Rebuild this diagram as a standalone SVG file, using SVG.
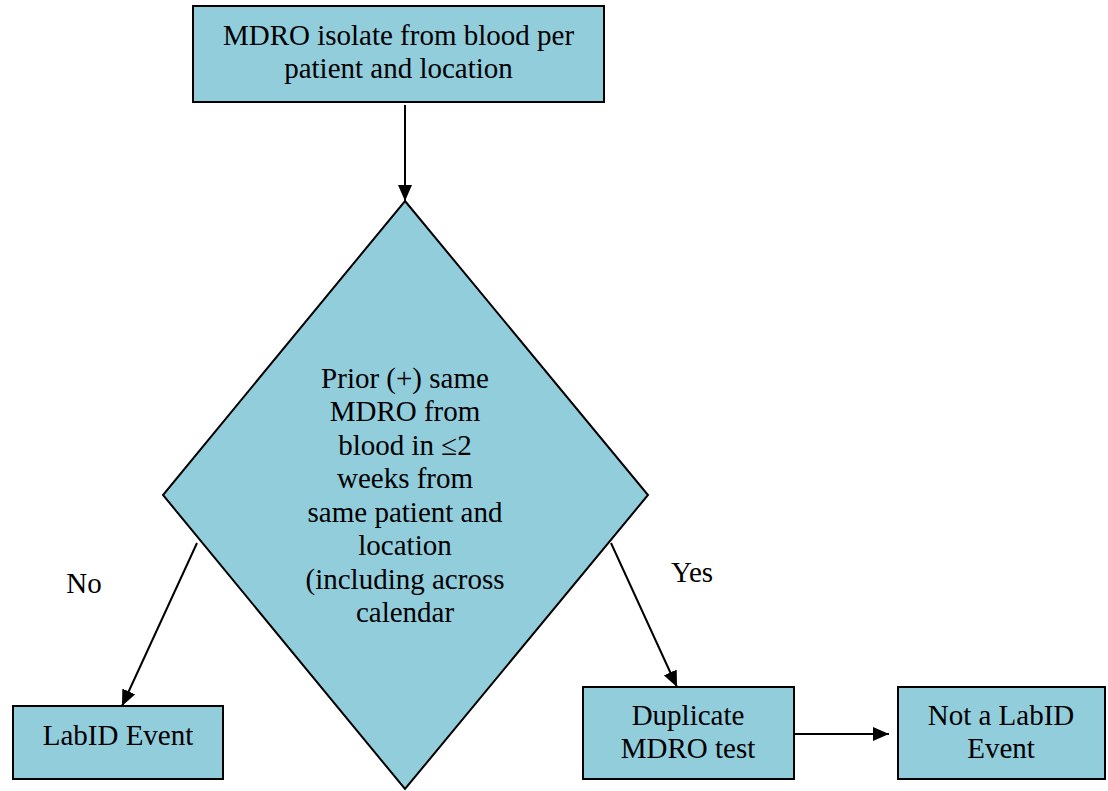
<svg xmlns="http://www.w3.org/2000/svg" width="1108" height="791" viewBox="0 0 1108 791">
<style>
.box{fill:#92CDDC;stroke:#000;stroke-width:2}
.c{stroke:#000;stroke-width:2;fill:none;marker-end:url(#ah)}
</style>
<defs>
<marker id="ah" viewBox="0 0 16 14" refX="16" refY="7" markerWidth="16" markerHeight="14" markerUnits="userSpaceOnUse" orient="auto">
<path d="M0,0 L16,7 L0,14 z" fill="#000"/>
</marker>
</defs>
<rect width="1108" height="791" fill="#fff"/>
<g font-family="'Liberation Serif', 'Times New Roman', 'DejaVu Serif', serif" font-size="29" text-anchor="middle" fill="#000">
<g id="n-start">
<rect class="box" x="193" y="6" width="411" height="96"/>
<text x="398.5" y="45">MDRO isolate from blood per</text>
<text x="398.5" y="78">patient and location</text>
</g>
<g id="n-decision">
<polygon class="box" points="405,201 648,495 405,789 163,495"/>
<text x="405" y="388">Prior (+) same</text>
<text x="405" y="421">MDRO from</text>
<text x="405" y="455">blood in ≤2</text>
<text x="405" y="488">weeks from</text>
<text x="405" y="522">same patient and</text>
<text x="405" y="555">location</text>
<text x="405" y="589">(including across</text>
<text x="405" y="622">calendar</text>
</g>
<g id="n-labid">
<rect class="box" x="13" y="706" width="210" height="73"/>
<text x="118" y="745">LabID Event</text>
</g>
<g id="n-dup">
<rect class="box" x="583" y="687" width="211" height="92"/>
<text x="688" y="725">Duplicate</text>
<text x="688" y="758">MDRO test</text>
</g>
<g id="n-not">
<rect class="box" x="898" y="687" width="207" height="92"/>
<text x="1001" y="725">Not a LabID</text>
<text x="1001" y="758">Event</text>
</g>
<g id="connectors">
<path class="c" d="M405,105 L405,201"/>
<path class="c" d="M197,543 L122,706"/>
<path class="c" d="M611,543 L677,687"/>
<path class="c" d="M794,734 L889,734"/>
<text x="84" y="593">No</text>
<text x="692" y="582">Yes</text>
</g>
</g>
</svg>
